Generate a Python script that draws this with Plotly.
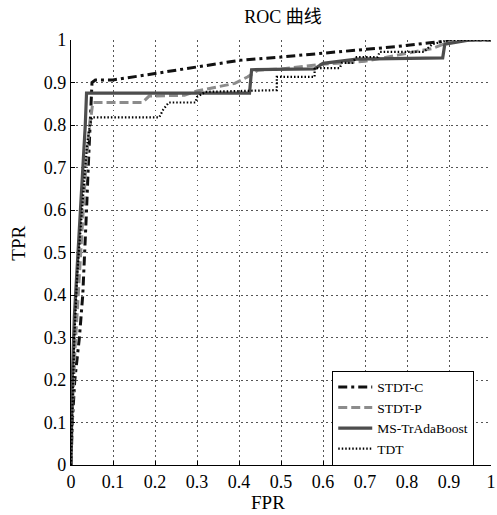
import plotly.graph_objects as go

# ---- data ----
stdtc_fpr = [0, 0.003, 0.009, 0.02, 0.028, 0.033, 0.037, 0.041, 0.045, 0.048, 0.05, 0.058, 0.1, 0.16, 0.29, 0.4, 0.5, 0.555, 0.687, 0.78, 0.86, 0.92, 1.0]
stdtc_tpr = [0, 0.1, 0.2, 0.3, 0.4, 0.5, 0.6, 0.7, 0.8, 0.84, 0.9, 0.906, 0.906, 0.915, 0.936, 0.952, 0.96, 0.965, 0.976, 0.985, 0.994, 1.0, 1.0]

stdtp_fpr = [0, 0.004, 0.01, 0.018, 0.026, 0.034, 0.042, 0.05, 0.052, 0.17, 0.186, 0.27, 0.3, 0.39, 0.42, 0.445, 0.5, 0.6, 0.7, 0.78, 0.86, 0.9, 0.93, 1.0]
stdtp_tpr = [0, 0.15, 0.28, 0.42, 0.55, 0.68, 0.78, 0.84, 0.853, 0.853, 0.868, 0.87, 0.88, 0.898, 0.913, 0.929, 0.932, 0.943, 0.95, 0.965, 0.98, 0.995, 1.0, 1.0]

ms_fpr = [0, 0.003, 0.008, 0.017, 0.025, 0.03, 0.034, 0.037, 0.425, 0.43, 0.58, 0.6, 0.68, 0.885, 0.89, 0.95, 1.0]
ms_tpr = [0, 0.2, 0.35, 0.5, 0.62, 0.72, 0.8, 0.875, 0.875, 0.93, 0.932, 0.945, 0.955, 0.958, 0.99, 1.0, 1.0]

tdt_fpr = [0, 0.004, 0.008, 0.015, 0.022, 0.03, 0.038, 0.045, 0.05, 0.21, 0.22, 0.233, 0.296, 0.3, 0.32, 0.49, 0.49, 0.58, 0.58, 0.64, 0.645, 0.67, 0.68, 0.73, 0.735, 0.84, 0.86, 0.9, 1.0]
tdt_tpr = [0, 0.15, 0.3, 0.45, 0.55, 0.65, 0.75, 0.8, 0.818, 0.818, 0.837, 0.853, 0.853, 0.866, 0.878, 0.882, 0.913, 0.913, 0.934, 0.934, 0.946, 0.946, 0.96, 0.96, 0.972, 0.972, 0.99, 1.0, 1.0]

tick_vals = [0, 0.1, 0.2, 0.3, 0.4, 0.5, 0.6, 0.7, 0.8, 0.9, 1.0]
tick_text = ["0", "0.1", "0.2", "0.3", "0.4", "0.5", "0.6", "0.7", "0.8", "0.9", "1"]

SERIF = "Liberation Serif, Times New Roman, Noto Sans CJK SC, serif"

fig = go.Figure()
fig.add_trace(go.Scatter(x=stdtc_fpr, y=stdtc_tpr, mode="lines", name="STDT-C",
                         line=dict(color="#111111", width=3, dash="9px,4px,3px,4px")))
fig.add_trace(go.Scatter(x=stdtp_fpr, y=stdtp_tpr, mode="lines", name="STDT-P",
                         line=dict(color="#8c8c8c", width=3, dash="9px,4px")))
fig.add_trace(go.Scatter(x=ms_fpr, y=ms_tpr, mode="lines", name="MS-TrAdaBoost",
                         line=dict(color="#4d4d4d", width=3.2)))
fig.add_trace(go.Scatter(x=tdt_fpr, y=tdt_tpr, mode="lines", name="TDT",
                         line=dict(color="#000000", width=2.2, dash="1.5px,2px")))

axis_common = dict(
    range=[0, 1], tickvals=tick_vals, ticktext=tick_text,
    showgrid=True, gridcolor="#555555", gridwidth=1, griddash="1.5px,3.5px",
    showline=True, linecolor="black", linewidth=1.2, mirror=False,
    ticks="inside", ticklen=4, tickcolor="black",
    zeroline=False, tickfont=dict(family=SERIF, size=18, color="black"),
    ticklabeloverflow="allow",
    fixedrange=True,
)

fig.update_layout(
    width=497, height=515,
    margin=dict(l=71, r=1, t=40, b=50),
    paper_bgcolor="white", plot_bgcolor="white",
    xaxis=dict(**axis_common),
    yaxis=dict(**axis_common),
    title=dict(text="ROC 曲线", x=283/497, xanchor="center", y=1-17/515, yanchor="middle",
               font=dict(family=SERIF, size=18, color="black")),
    legend=dict(x=0.622, y=0.222, xanchor="left", yanchor="top",
                bgcolor="white", bordercolor="black", borderwidth=1,
                font=dict(family=SERIF, size=13.5, color="black"),
                tracegroupgap=0, itemwidth=34),
    showlegend=True,
)

fig.add_annotation(text="TPR", x=-0.125, y=0.522, xref="paper", yref="paper",
                   xanchor="center", yanchor="middle", textangle=-90,
                   showarrow=False, font=dict(family=SERIF, size=19, color="black"))
fig.add_annotation(text="FPR", x=0.47, y=-0.089, xref="paper", yref="paper",
                   xanchor="center", yanchor="middle",
                   showarrow=False, font=dict(family=SERIF, size=19, color="black"))

fig.write_html("out.html")
